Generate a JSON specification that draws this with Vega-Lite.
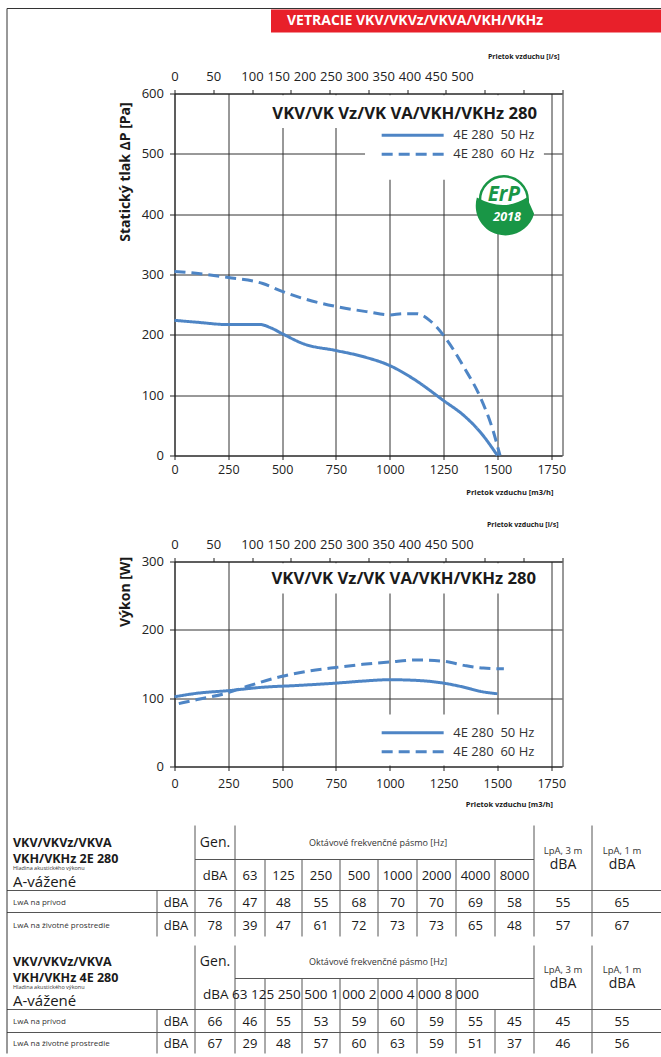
{
  "$schema": "https://vega.github.io/schema/vega-lite/v6.json",
  "background": "white",
  "padding": {"left": 6.5, "top": 7.5, "right": 0, "bottom": 0},
  "bounds": "flush",
  "spacing": 0,
  "resolve": {"scale": {"strokeDash": "independent"}, "legend": {"strokeDash": "independent"}},
  "config": {
    "view": {"stroke": null},
    "font": "Open Sans",
    "axis": {"labelFont": "Open Sans", "titleFont": "Open Sans", "labelColor": "#222", "titleColor": "#1a1a1a", "domainColor": "#222", "tickColor": "#222", "gridColor": "#333", "gridOpacity": 1, "labelFlush": false, "labelOverlap": false},
    "legend": {"labelFont": "Open Sans"},
    "title": {"font": "Open Sans"}
  },
  "datasets": {
    "pressure": [
      {"q": 0, "p": 224, "s": "4E 280\u00a0 50 Hz"},
      {"q": 100, "p": 221, "s": "4E 280\u00a0 50 Hz"},
      {"q": 250, "p": 217, "s": "4E 280\u00a0 50 Hz"},
      {"q": 400, "p": 217, "s": "4E 280\u00a0 50 Hz"},
      {"q": 445, "p": 212, "s": "4E 280\u00a0 50 Hz"},
      {"q": 500, "p": 202, "s": "4E 280\u00a0 50 Hz"},
      {"q": 600, "p": 185, "s": "4E 280\u00a0 50 Hz"},
      {"q": 750, "p": 174, "s": "4E 280\u00a0 50 Hz"},
      {"q": 875, "p": 164, "s": "4E 280\u00a0 50 Hz"},
      {"q": 1000, "p": 149, "s": "4E 280\u00a0 50 Hz"},
      {"q": 1110, "p": 127, "s": "4E 280\u00a0 50 Hz"},
      {"q": 1250, "p": 91, "s": "4E 280\u00a0 50 Hz"},
      {"q": 1345, "p": 66, "s": "4E 280\u00a0 50 Hz"},
      {"q": 1420, "p": 39, "s": "4E 280\u00a0 50 Hz"},
      {"q": 1500, "p": 0, "s": "4E 280\u00a0 50 Hz"},
      {"q": 0, "p": 305, "s": "4E 280\u00a0 60 Hz"},
      {"q": 100, "p": 302, "s": "4E 280\u00a0 60 Hz"},
      {"q": 250, "p": 295, "s": "4E 280\u00a0 60 Hz"},
      {"q": 410, "p": 285, "s": "4E 280\u00a0 60 Hz"},
      {"q": 500, "p": 272, "s": "4E 280\u00a0 60 Hz"},
      {"q": 600, "p": 260, "s": "4E 280\u00a0 60 Hz"},
      {"q": 750, "p": 247, "s": "4E 280\u00a0 60 Hz"},
      {"q": 900, "p": 238, "s": "4E 280\u00a0 60 Hz"},
      {"q": 1000, "p": 233, "s": "4E 280\u00a0 60 Hz"},
      {"q": 1060, "p": 235, "s": "4E 280\u00a0 60 Hz"},
      {"q": 1125, "p": 235, "s": "4E 280\u00a0 60 Hz"},
      {"q": 1185, "p": 224, "s": "4E 280\u00a0 60 Hz"},
      {"q": 1250, "p": 199, "s": "4E 280\u00a0 60 Hz"},
      {"q": 1345, "p": 146, "s": "4E 280\u00a0 60 Hz"},
      {"q": 1420, "p": 97, "s": "4E 280\u00a0 60 Hz"},
      {"q": 1480, "p": 41, "s": "4E 280\u00a0 60 Hz"},
      {"q": 1512, "p": 0, "s": "4E 280\u00a0 60 Hz"}
    ],
    "power": [
      {"q": 0, "w": 102, "s": "4E 280\u00a0 50 Hz"},
      {"q": 100, "w": 107, "s": "4E 280\u00a0 50 Hz"},
      {"q": 250, "w": 111, "s": "4E 280\u00a0 50 Hz"},
      {"q": 410, "w": 116, "s": "4E 280\u00a0 50 Hz"},
      {"q": 565, "w": 118.5, "s": "4E 280\u00a0 50 Hz"},
      {"q": 750, "w": 122, "s": "4E 280\u00a0 50 Hz"},
      {"q": 875, "w": 125, "s": "4E 280\u00a0 50 Hz"},
      {"q": 1000, "w": 127, "s": "4E 280\u00a0 50 Hz"},
      {"q": 1125, "w": 126, "s": "4E 280\u00a0 50 Hz"},
      {"q": 1250, "w": 122, "s": "4E 280\u00a0 50 Hz"},
      {"q": 1345, "w": 116, "s": "4E 280\u00a0 50 Hz"},
      {"q": 1420, "w": 110, "s": "4E 280\u00a0 50 Hz"},
      {"q": 1500, "w": 106.5, "s": "4E 280\u00a0 50 Hz"},
      {"q": 20, "w": 92, "s": "4E 280\u00a0 60 Hz"},
      {"q": 105, "w": 98, "s": "4E 280\u00a0 60 Hz"},
      {"q": 250, "w": 108, "s": "4E 280\u00a0 60 Hz"},
      {"q": 335, "w": 117, "s": "4E 280\u00a0 60 Hz"},
      {"q": 500, "w": 132, "s": "4E 280\u00a0 60 Hz"},
      {"q": 630, "w": 140, "s": "4E 280\u00a0 60 Hz"},
      {"q": 750, "w": 145, "s": "4E 280\u00a0 60 Hz"},
      {"q": 875, "w": 149.5, "s": "4E 280\u00a0 60 Hz"},
      {"q": 1000, "w": 153, "s": "4E 280\u00a0 60 Hz"},
      {"q": 1125, "w": 156, "s": "4E 280\u00a0 60 Hz"},
      {"q": 1250, "w": 154, "s": "4E 280\u00a0 60 Hz"},
      {"q": 1345, "w": 148, "s": "4E 280\u00a0 60 Hz"},
      {"q": 1435, "w": 144, "s": "4E 280\u00a0 60 Hz"},
      {"q": 1530, "w": 143, "s": "4E 280\u00a0 60 Hz"}
    ],
    "grid": [
      {"part": "frame", "x": 0, "x2": 0, "y": -1, "y2": 9},
      {"part": "frame", "x": 0, "x2": 14, "y": -1, "y2": -1},
      {"part": "table", "x": 1, "x2": 1, "y": 2, "y2": 4},
      {"part": "table", "x": 2, "x2": 2, "y": 0, "y2": 4},
      {"part": "table", "x": 3, "x2": 3, "y": 0, "y2": 4},
      {"part": "table", "x": 4, "x2": 4, "y": 1, "y2": 4},
      {"part": "table", "x": 5, "x2": 5, "y": 1, "y2": 4},
      {"part": "table", "x": 6, "x2": 6, "y": 1, "y2": 4},
      {"part": "table", "x": 7, "x2": 7, "y": 1, "y2": 4},
      {"part": "table", "x": 8, "x2": 8, "y": 1, "y2": 4},
      {"part": "table", "x": 9, "x2": 9, "y": 1, "y2": 4},
      {"part": "table", "x": 10, "x2": 10, "y": 1, "y2": 4},
      {"part": "table", "x": 11, "x2": 11, "y": 0, "y2": 4},
      {"part": "table", "x": 12, "x2": 12, "y": 0, "y2": 4},
      {"part": "table", "x": 2, "x2": 11, "y": 1, "y2": 1},
      {"part": "table", "x": 0, "x2": 14, "y": 2, "y2": 2},
      {"part": "table", "x": 0, "x2": 14, "y": 3, "y2": 3},
      {"part": "table", "x": 1, "x2": 1, "y": 7, "y2": 9},
      {"part": "table", "x": 2, "x2": 2, "y": 5, "y2": 9},
      {"part": "table", "x": 3, "x2": 3, "y": 5, "y2": 9},
      {"part": "table", "x": 4, "x2": 4, "y": 6, "y2": 9},
      {"part": "table", "x": 5, "x2": 5, "y": 6, "y2": 9},
      {"part": "table", "x": 6, "x2": 6, "y": 6, "y2": 9},
      {"part": "table", "x": 7, "x2": 7, "y": 6, "y2": 9},
      {"part": "table", "x": 8, "x2": 8, "y": 6, "y2": 9},
      {"part": "table", "x": 9, "x2": 9, "y": 6, "y2": 9},
      {"part": "table", "x": 10, "x2": 10, "y": 7, "y2": 9},
      {"part": "table", "x": 11, "x2": 11, "y": 5, "y2": 9},
      {"part": "table", "x": 12, "x2": 12, "y": 5, "y2": 9},
      {"part": "table", "x": 3, "x2": 11, "y": 6, "y2": 6},
      {"part": "table", "x": 0, "x2": 14, "y": 7, "y2": 7},
      {"part": "table", "x": 0, "x2": 14, "y": 8, "y2": 8}
    ],
    "cells": [
      {"x": 0, "y": 0.5, "t": "VKV/VKVz/VKVA\nVKH/VKHz 2E 280", "k": "title"},
      {"x": 0, "y": 1, "t": "Hladina akustického výkonu", "k": "tiny"},
      {"x": 0, "y": 1, "t": "A-vážené", "k": "big"},
      {"x": 2.5, "y": 0.5, "t": "Gen.", "k": "hdr"},
      {"x": 7, "y": 0.5, "t": "Oktávové frekvenčné pásmo [Hz]", "k": "oct"},
      {"x": 11.5, "y": 1, "t": "LpA, 3 m", "k": "lpa"},
      {"x": 11.5, "y": 1, "t": "dBA", "k": "lpadba"},
      {"x": 12.5, "y": 1, "t": "LpA, 1 m", "k": "lpa"},
      {"x": 12.5, "y": 1, "t": "dBA", "k": "lpadba"},
      {"x": 2.5, "y": 1.5, "t": "dBA", "k": "num"},
      {"x": 3.5, "y": 1.5, "t": "63", "k": "num"},
      {"x": 4.5, "y": 1.5, "t": "125", "k": "num"},
      {"x": 5.5, "y": 1.5, "t": "250", "k": "num"},
      {"x": 6.5, "y": 1.5, "t": "500", "k": "num"},
      {"x": 7.5, "y": 1.5, "t": "1000", "k": "num"},
      {"x": 8.5, "y": 1.5, "t": "2000", "k": "num"},
      {"x": 9.5, "y": 1.5, "t": "4000", "k": "num"},
      {"x": 10.5, "y": 1.5, "t": "8000", "k": "num"},
      {"x": 0, "y": 2.5, "t": "LwA na prívod", "k": "row"},
      {"x": 1.5, "y": 2.5, "t": "dBA", "k": "num"},
      {"x": 2.5, "y": 2.5, "t": "76", "k": "num"},
      {"x": 3.5, "y": 2.5, "t": "47", "k": "num"},
      {"x": 4.5, "y": 2.5, "t": "48", "k": "num"},
      {"x": 5.5, "y": 2.5, "t": "55", "k": "num"},
      {"x": 6.5, "y": 2.5, "t": "68", "k": "num"},
      {"x": 7.5, "y": 2.5, "t": "70", "k": "num"},
      {"x": 8.5, "y": 2.5, "t": "70", "k": "num"},
      {"x": 9.5, "y": 2.5, "t": "69", "k": "num"},
      {"x": 10.5, "y": 2.5, "t": "58", "k": "num"},
      {"x": 11.5, "y": 2.5, "t": "55", "k": "num"},
      {"x": 12.5, "y": 2.5, "t": "65", "k": "num"},
      {"x": 0, "y": 3.5, "t": "LwA na životné prostredie", "k": "row"},
      {"x": 1.5, "y": 3.5, "t": "dBA", "k": "num"},
      {"x": 2.5, "y": 3.5, "t": "78", "k": "num"},
      {"x": 3.5, "y": 3.5, "t": "39", "k": "num"},
      {"x": 4.5, "y": 3.5, "t": "47", "k": "num"},
      {"x": 5.5, "y": 3.5, "t": "61", "k": "num"},
      {"x": 6.5, "y": 3.5, "t": "72", "k": "num"},
      {"x": 7.5, "y": 3.5, "t": "73", "k": "num"},
      {"x": 8.5, "y": 3.5, "t": "73", "k": "num"},
      {"x": 9.5, "y": 3.5, "t": "65", "k": "num"},
      {"x": 10.5, "y": 3.5, "t": "48", "k": "num"},
      {"x": 11.5, "y": 3.5, "t": "57", "k": "num"},
      {"x": 12.5, "y": 3.5, "t": "67", "k": "num"},
      {"x": 0, "y": 5.5, "t": "VKV/VKVz/VKVA\nVKH/VKHz 4E 280", "k": "title"},
      {"x": 0, "y": 6, "t": "Hladina akustického výkonu", "k": "tiny"},
      {"x": 0, "y": 6, "t": "A-vážené", "k": "big"},
      {"x": 2.5, "y": 5.5, "t": "Gen.", "k": "hdr"},
      {"x": 7, "y": 5.5, "t": "Oktávové frekvenčné pásmo [Hz]", "k": "oct"},
      {"x": 11.5, "y": 6, "t": "LpA, 3 m", "k": "lpa"},
      {"x": 11.5, "y": 6, "t": "dBA", "k": "lpadba"},
      {"x": 12.5, "y": 6, "t": "LpA, 1 m", "k": "lpa"},
      {"x": 12.5, "y": 6, "t": "dBA", "k": "lpadba"},
      {"x": 2, "y": 6.5, "t": "dBA 63 125 250 500 1 000 2 000 4 000 8 000", "k": "numleft"},
      {"x": 0, "y": 7.5, "t": "LwA na prívod", "k": "row"},
      {"x": 1.5, "y": 7.5, "t": "dBA", "k": "num"},
      {"x": 2.5, "y": 7.5, "t": "66", "k": "num"},
      {"x": 3.5, "y": 7.5, "t": "46", "k": "num"},
      {"x": 4.5, "y": 7.5, "t": "55", "k": "num"},
      {"x": 5.5, "y": 7.5, "t": "53", "k": "num"},
      {"x": 6.5, "y": 7.5, "t": "59", "k": "num"},
      {"x": 7.5, "y": 7.5, "t": "60", "k": "num"},
      {"x": 8.5, "y": 7.5, "t": "59", "k": "num"},
      {"x": 9.5, "y": 7.5, "t": "55", "k": "num"},
      {"x": 10.5, "y": 7.5, "t": "45", "k": "num"},
      {"x": 11.5, "y": 7.5, "t": "45", "k": "num"},
      {"x": 12.5, "y": 7.5, "t": "55", "k": "num"},
      {"x": 0, "y": 8.5, "t": "LwA na životné prostredie", "k": "row"},
      {"x": 1.5, "y": 8.5, "t": "dBA", "k": "num"},
      {"x": 2.5, "y": 8.5, "t": "67", "k": "num"},
      {"x": 3.5, "y": 8.5, "t": "29", "k": "num"},
      {"x": 4.5, "y": 8.5, "t": "48", "k": "num"},
      {"x": 5.5, "y": 8.5, "t": "57", "k": "num"},
      {"x": 6.5, "y": 8.5, "t": "60", "k": "num"},
      {"x": 7.5, "y": 8.5, "t": "63", "k": "num"},
      {"x": 8.5, "y": 8.5, "t": "59", "k": "num"},
      {"x": 9.5, "y": 8.5, "t": "51", "k": "num"},
      {"x": 10.5, "y": 8.5, "t": "37", "k": "num"},
      {"x": 11.5, "y": 8.5, "t": "46", "k": "num"},
      {"x": 12.5, "y": 8.5, "t": "56", "k": "num"}
    ]
  },
  "vconcat": [
    {
      "width": 486.5,
      "height": 84,
      "data": {"values": [{}]},
      "layer": [
        {
          "mark": {"type": "rect", "color": "#e8202a"},
          "encoding": {
            "x": {"datum": 0, "type": "quantitative", "scale": {"domain": [0, 1], "range": [96.5, 486.5], "nice": false, "zero": false}, "axis": null},
            "x2": {"datum": 1},
            "y": {"datum": 0, "type": "quantitative", "scale": {"domain": [0, 1], "range": [0, 23], "nice": false, "zero": false}, "axis": null},
            "y2": {"datum": 1}
          }
        },
        {
          "mark": {"type": "text", "text": "VETRACIE VKV/VKVz/VKVA/VKH/VKHz", "color": "white", "fontWeight": "bold", "fontSize": 14, "align": "left", "baseline": "middle", "dx": 16},
          "encoding": {
            "x": {"datum": 0, "type": "quantitative"},
            "y": {"datum": 0.52, "type": "quantitative"}
          }
        }
      ]
    },
    {
      "width": 387.5,
      "height": 362,
      "layer": [
        {
          "layer": [
            {
              "data": {"name": "pressure"},
              "mark": {"type": "line", "interpolate": "monotone", "strokeWidth": 3, "color": "#4e85c5"},
              "encoding": {
                "x": {"field": "q", "type": "quantitative", "scale": {"domain": [0, 1800], "nice": false, "zero": true},
                  "axis": {"orient": "bottom", "values": [0, 250, 500, 750, 1000, 1250, 1500, 1750, 1800], "format": "d", "labelExpr": "datum.value == 1800 ? '' : datum.label", "grid": true, "tickSize": 4, "tickOpacity": {"expr": "datum.value == 1800 ? 0 : 1"}, "labelFontSize": 12.5, "labelPadding": 4, "title": "Prietok vzduchu [m3/h]", "titleFontSize": 7.5, "titleFontWeight": "bold", "titleAnchor": "end", "titleAlign": "right", "titleX": 378.5, "titleY": 37, "titleBaseline": "middle"}},
                "y": {"field": "p", "type": "quantitative", "scale": {"domain": [0, 600], "nice": false},
                  "axis": {"values": [0, 100, 200, 300, 400, 500, 600], "grid": true, "tickSize": 5, "labelFontSize": 13, "labelPadding": 6, "title": "Statický tlak ΔP [Pa]", "titleFontSize": 14, "titleFontWeight": "bold", "titleX": -49.5, "titleY": 78, "titleAngle": -90, "titleAlign": "center", "titleBaseline": "middle"}},
                "strokeDash": {"field": "s", "type": "nominal", "scale": {"domain": ["4E 280\u00a0 50 Hz", "4E 280\u00a0 60 Hz"], "range": [[1, 0], [11, 6]]},
                  "legend": {"orient": "none", "legendX": 205.5, "legendY": 29.7, "title": null, "padding": 0, "symbolType": "M -1 0 L 5 0", "symbolSize": 427, "symbolStrokeWidth": 3, "symbolStrokeColor": "#4e85c5", "symbolFillColor": "transparent", "labelFontSize": 13, "labelColor": "#333", "labelOffset": 49.3, "rowPadding": 0}}
              }
            },
            {
              "data": {"values": [{}]},
              "mark": {"type": "rect", "color": "white"},
              "encoding": {
                "x": {"datum": 417, "type": "quantitative"},
                "x2": {"datum": 1716},
                "y": {"datum": 543, "type": "quantitative"},
                "y2": {"datum": 597}
              }
            },
            {
              "data": {"values": [{}]},
              "mark": {"type": "rect", "color": "white"},
              "encoding": {
                "x": {"datum": 885, "type": "quantitative"},
                "x2": {"datum": 1716},
                "y": {"datum": 457, "type": "quantitative"},
                "y2": {"datum": 544}
              }
            },
            {
              "data": {"values": [{}]},
              "mark": {"type": "text", "text": "VKV/VK Vz/VK VA/VKH/VKHz 280", "align": "right", "baseline": "middle", "fontSize": 16.7, "fontWeight": "bold", "color": "#1a1a1a"},
              "encoding": {"x": {"datum": 1684, "type": "quantitative"}, "y": {"datum": 566, "type": "quantitative"}}
            },
            {
              "data": {"values": [{}]},
              "mark": {"type": "point", "shape": "circle", "filled": true, "fill": "white", "stroke": "#199646", "strokeWidth": 2.5, "size": 2290, "opacity": 1},
              "encoding": {"x": {"datum": 1530, "type": "quantitative"}, "y": {"datum": 423, "type": "quantitative"}}
            },
            {
              "data": {"values": [{}]},
              "mark": {"type": "point", "shape": "M -1 -0.1 Q 0 0.45 0.85 -0.1 L 1.12 0.5 A 1 1 0 0 1 -1 -0.1 Z", "filled": true, "color": "#199646", "size": 2916, "opacity": 1, "strokeWidth": 0},
              "encoding": {"x": {"datum": 1530, "type": "quantitative"}, "y": {"datum": 423, "type": "quantitative"}}
            },
            {
              "data": {"values": [{}]},
              "mark": {"type": "text", "text": "ErP", "fontSize": 20.5, "fontWeight": "bold", "fontStyle": "italic", "color": "#199646", "align": "center", "baseline": "middle"},
              "encoding": {"x": {"datum": 1530, "type": "quantitative"}, "y": {"datum": 431, "type": "quantitative"}}
            },
            {
              "data": {"values": [{}]},
              "mark": {"type": "text", "text": "2018", "fontSize": 12.5, "fontWeight": "bold", "fontStyle": "italic", "color": "white", "align": "center", "baseline": "middle"},
              "encoding": {"x": {"datum": 1545, "type": "quantitative"}, "y": {"datum": 396, "type": "quantitative"}}
            }
          ]
        },
        {
          "data": {"values": [{}]},
          "mark": {"type": "rule", "opacity": 0},
          "encoding": {
            "x": {"datum": 0, "type": "quantitative", "scale": {"domain": [0, 500], "nice": false},
              "axis": {"orient": "top", "values": [0, 50, 100, 150, 200, 250, 300, 350, 400, 450, 500], "format": "d", "grid": false, "tickSize": 4, "labelFontSize": 13, "labelPadding": 6, "labelOffset": {"expr": "datum.value <= 100 ? 0 : -(datum.value - 100) * 0.25"}, "title": "Prietok vzduchu [l/s]", "titleFontSize": 7, "titleFontWeight": "bold", "titleAnchor": "end", "titleAlign": "right", "titleX": 384.5, "titleY": -37, "titleBaseline": "middle", "zindex": 1}}
          }
        }
      ],
      "resolve": {"scale": {"x": "independent"}, "axis": {"x": "independent"}}
    },
    {
      "width": 10,
      "height": 106,
      "data": {"values": []},
      "mark": {"type": "rule"},
      "encoding": {}
    },
    {
      "width": 387.5,
      "height": 205,
      "layer": [
        {
          "layer": [
            {
              "data": {"name": "power"},
              "mark": {"type": "line", "interpolate": "monotone", "strokeWidth": 3, "color": "#4e85c5"},
              "encoding": {
                "x": {"field": "q", "type": "quantitative", "scale": {"domain": [0, 1800], "nice": false, "zero": true},
                  "axis": {"orient": "bottom", "values": [0, 250, 500, 750, 1000, 1250, 1500, 1750, 1800], "format": "d", "labelExpr": "datum.value == 1800 ? '' : datum.label", "grid": true, "tickSize": 4, "tickOpacity": {"expr": "datum.value == 1800 ? 0 : 1"}, "labelFontSize": 12.5, "labelPadding": 7, "title": "Prietok vzduchu [m3/h]", "titleFontSize": 7.5, "titleFontWeight": "bold", "titleAnchor": "end", "titleAlign": "right", "titleX": 378, "titleY": 37.5, "titleBaseline": "middle"}},
                "y": {"field": "w", "type": "quantitative", "scale": {"domain": [0, 300], "nice": false},
                  "axis": {"values": [0, 50, 100, 150, 200, 250, 300], "grid": true, "tickSize": 5, "labelFontSize": 13, "labelPadding": 6, "title": "Výkon [W]", "titleFontSize": 14, "titleFontWeight": "bold", "titleX": -49.5, "titleY": 30, "titleAngle": -90, "titleAlign": "center", "titleBaseline": "middle"}},
                "strokeDash": {"field": "s", "type": "nominal", "scale": {"domain": ["4E 280\u00a0 50 Hz", "4E 280\u00a0 60 Hz"], "range": [[1, 0], [11, 6]]},
                  "legend": {"orient": "none", "legendX": 205.5, "legendY": 159.3, "title": null, "padding": 0, "symbolType": "M -1 0 L 5 0", "symbolSize": 427, "symbolStrokeWidth": 3, "symbolStrokeColor": "#4e85c5", "symbolFillColor": "transparent", "labelFontSize": 13, "labelColor": "#333", "labelOffset": 49.3, "rowPadding": 0}}
              }
            },
            {
              "data": {"values": [{}]},
              "mark": {"type": "rect", "color": "white"},
              "encoding": {
                "x": {"datum": 417, "type": "quantitative"},
                "x2": {"datum": 1716},
                "y": {"datum": 253, "type": "quantitative"},
                "y2": {"datum": 297.5}
              }
            },
            {
              "data": {"values": [{}]},
              "mark": {"type": "rect", "color": "white"},
              "encoding": {
                "x": {"datum": 885, "type": "quantitative"},
                "x2": {"datum": 1716},
                "y": {"datum": 1.5, "type": "quantitative"},
                "y2": {"datum": 76}
              }
            },
            {
              "data": {"values": [{}]},
              "mark": {"type": "text", "text": "VKV/VK Vz/VK VA/VKH/VKHz 280", "align": "right", "baseline": "middle", "fontSize": 16.7, "fontWeight": "bold", "color": "#1a1a1a"},
              "encoding": {"x": {"datum": 1680, "type": "quantitative"}, "y": {"datum": 274.5, "type": "quantitative"}}
            }
          ]
        },
        {
          "data": {"values": [{}]},
          "mark": {"type": "rule", "opacity": 0},
          "encoding": {
            "x": {"datum": 0, "type": "quantitative", "scale": {"domain": [0, 500], "nice": false},
              "axis": {"orient": "top", "values": [0, 50, 100, 150, 200, 250, 300, 350, 400, 450, 500], "format": "d", "grid": false, "tickSize": 4, "labelFontSize": 13, "labelPadding": 6, "labelOffset": {"expr": "datum.value <= 100 ? 0 : -(datum.value - 100) * 0.25"}, "title": "Prietok vzduchu [l/s]", "titleFontSize": 7, "titleFontWeight": "bold", "titleAnchor": "end", "titleAlign": "right", "titleX": 383.5, "titleY": -37, "titleBaseline": "middle", "zindex": 1}}
          }
        }
      ],
      "resolve": {"scale": {"x": "independent"}, "axis": {"x": "independent"}}
    },
    {
      "width": 486.5,
      "height": 291,
      "encoding": {
        "x": {"field": "x", "type": "quantitative", "scale": {"domain": [0, 1, 2, 3, 4, 5, 6, 7, 8, 9, 10, 11, 12, 13, 14], "range": [-167.5, -17.5, 20.5, 60.5, 90.5, 127.5, 165.5, 203.5, 242.5, 281.5, 320.5, 359.5, 417.5, 477.5, 486.5], "nice": false, "zero": false}, "axis": null},
        "y": {"field": "y", "type": "quantitative", "scale": {"domain": [-1, 0, 1, 2, 3, 4, 5, 6, 7, 8, 9], "range": [-758, 59, 93, 124, 146, 170, 179, 212, 243, 266, 287], "nice": false, "zero": false}, "axis": null}
      },
      "layer": [
        {
          "data": {"name": "grid"},
          "transform": [{"filter": "datum.part == 'table'"}],
          "mark": {"type": "rule", "color": "#555", "strokeWidth": 1},
          "encoding": {"x2": {"field": "x2"}, "y2": {"field": "y2"}}
        },
        {
          "data": {"name": "grid"},
          "transform": [{"filter": "datum.part == 'frame'"}],
          "mark": {"type": "rule", "color": "#333", "strokeWidth": 1},
          "encoding": {"x2": {"field": "x2"}, "y2": {"field": "y2"}}
        },
        {
          "data": {"name": "cells"},
          "transform": [{"filter": "datum.k == 'title'"}],
          "mark": {"type": "text", "align": "left", "baseline": "middle", "dx": 6, "fontSize": 12.5, "fontWeight": "bold", "lineBreak": "\n", "lineHeight": 16, "color": "#1a1a1a"},
          "encoding": {"text": {"field": "t"}}
        },
        {
          "data": {"name": "cells"},
          "transform": [{"filter": "datum.k == 'tiny'"}],
          "mark": {"type": "text", "align": "left", "baseline": "middle", "dx": 6, "dy": 8, "fontSize": 5.5, "color": "#333"},
          "encoding": {"text": {"field": "t"}}
        },
        {
          "data": {"name": "cells"},
          "transform": [{"filter": "datum.k == 'big'"}],
          "mark": {"type": "text", "align": "left", "baseline": "middle", "dx": 6, "dy": 22.5, "fontSize": 15, "color": "#1a1a1a"},
          "encoding": {"text": {"field": "t"}}
        },
        {
          "data": {"name": "cells"},
          "transform": [{"filter": "datum.k == 'hdr'"}],
          "mark": {"type": "text", "align": "center", "baseline": "middle", "fontSize": 14, "color": "#1a1a1a"},
          "encoding": {"text": {"field": "t"}}
        },
        {
          "data": {"name": "cells"},
          "transform": [{"filter": "datum.k == 'oct'"}],
          "mark": {"type": "text", "align": "center", "baseline": "middle", "fontSize": 9, "color": "#333"},
          "encoding": {"text": {"field": "t"}}
        },
        {
          "data": {"name": "cells"},
          "transform": [{"filter": "datum.k == 'lpa'"}],
          "mark": {"type": "text", "align": "center", "baseline": "middle", "dy": -9, "fontSize": 9.5, "color": "#333"},
          "encoding": {"text": {"field": "t"}}
        },
        {
          "data": {"name": "cells"},
          "transform": [{"filter": "datum.k == 'lpadba'"}],
          "mark": {"type": "text", "align": "center", "baseline": "middle", "dy": 5.5, "fontSize": 14, "color": "#1a1a1a"},
          "encoding": {"text": {"field": "t"}}
        },
        {
          "data": {"name": "cells"},
          "transform": [{"filter": "datum.k == 'num'"}],
          "mark": {"type": "text", "align": "center", "baseline": "middle", "dy": 1, "fontSize": 13, "color": "#1a1a1a"},
          "encoding": {"text": {"field": "t"}}
        },
        {
          "data": {"name": "cells"},
          "transform": [{"filter": "datum.k == 'numleft'"}],
          "mark": {"type": "text", "align": "left", "baseline": "middle", "dx": 8, "dy": 1, "fontSize": 13.5, "color": "#1a1a1a"},
          "encoding": {"text": {"field": "t"}}
        },
        {
          "data": {"name": "cells"},
          "transform": [{"filter": "datum.k == 'row'"}],
          "mark": {"type": "text", "align": "left", "baseline": "middle", "dx": 6, "dy": 1, "fontSize": 8, "color": "#333"},
          "encoding": {"text": {"field": "t"}}
        }
      ]
    }
  ]
}
